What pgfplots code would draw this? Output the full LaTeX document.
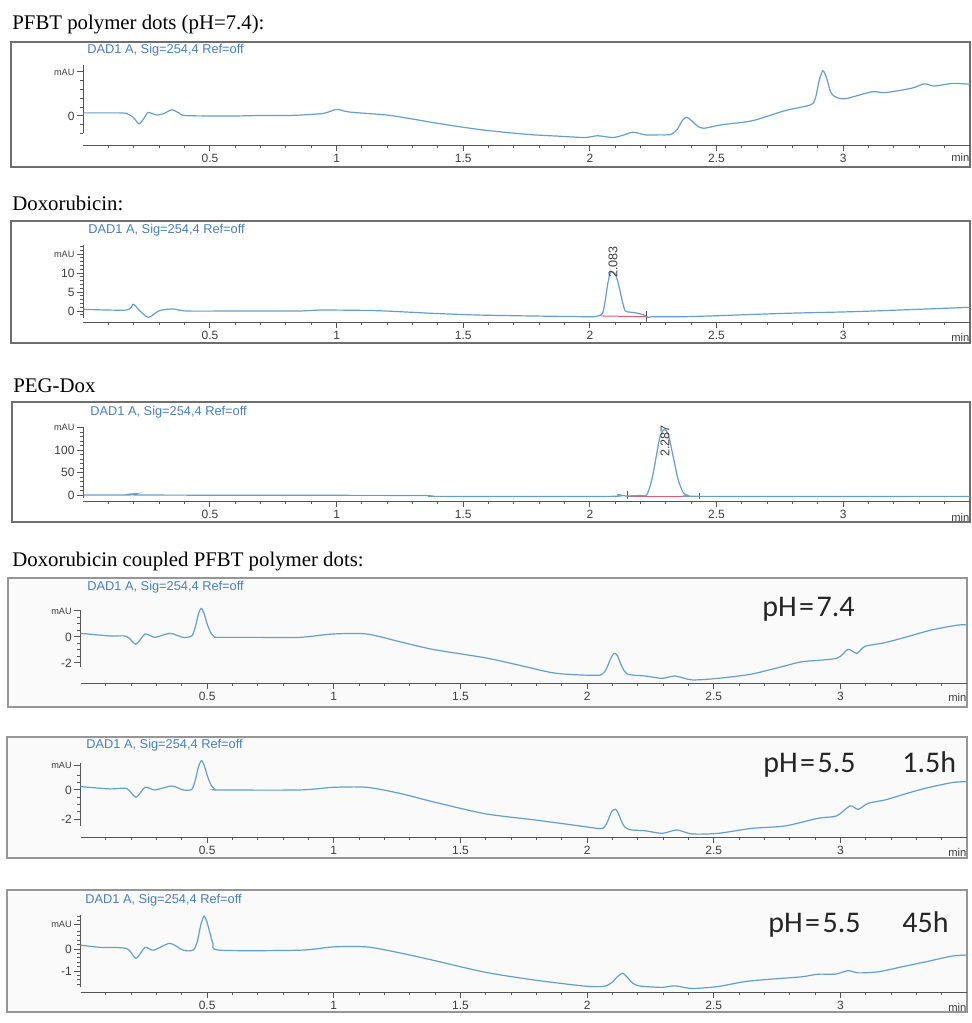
\documentclass[border=0pt]{standalone}
\usepackage{fontspec}
\setmainfont{Liberation Serif}
\newfontfamily\arial{Liberation Sans}
\newfontfamily\calibri{Carlito}
\usepackage{pgfplots}
\pgfplotsset{compat=1.18}
\definecolor{trace}{RGB}{100,158,208}
\definecolor{dadblue}{RGB}{70,125,195}
\definecolor{axcol}{RGB}{85,85,85}
\definecolor{labcol}{RGB}{60,60,60}
\definecolor{framea}{RGB}{110,110,110}
\definecolor{frameb}{RGB}{150,150,150}
\definecolor{intred}{RGB}{230,90,110}
\newcommand\mAU{{\fontsize{4.6}{5}\selectfont mAU}}
\pgfplotsset{hplc/.style={
  x=126.65pt, xmin=0, xmax=3.5,
  anchor=south west, clip=false,
  axis x line=bottom, axis y line=left,
  axis line style={-, draw=axcol, line width=0.5pt},
  y axis line style={draw=none},
  tick align=outside, tick style={axcol, line width=0.5pt},
  major tick length=3.2pt, minor tick length=1.6pt,
  xtick={0.5,1,1.5,2,2.5,3}, xticklabels={0.5,1,1.5,2,2.5,3},
  minor xtick={0.1,0.2,0.3,0.4,0.6,0.7,0.8,0.9,1.1,1.2,1.3,1.4,1.6,1.7,1.8,1.9,2.1,2.2,2.3,2.4,2.6,2.7,2.8,2.9,3.1,3.2,3.3,3.4},
  /pgf/number format/assume math mode=true,
  tick label style={font=\arial\fontsize{6}{7}\selectfont, text=labcol, inner sep=1pt},
},
tr/.style={trace, line width=0.6pt, smooth, tension=0.45}}
\begin{document}
\begin{tikzpicture}
\path[use as bounding box] (0,0) rectangle (485.5pt,-511.5pt);
\begin{scope}[x=0.5pt,y=-0.5pt]
\draw[framea, line width=0.55pt] (11,42) rectangle (970,167);
\draw[framea, line width=0.55pt] (11,221) rectangle (970,343);
\draw[framea, line width=0.55pt] (12,402) rectangle (970,522);
\draw[frameb, fill=black!2, line width=0.55pt] (8,578) rectangle (967,707);
\draw[frameb, fill=black!2, line width=0.55pt] (7,737) rectangle (967,858);
\draw[frameb, fill=black!2, line width=0.55pt] (7,890) rectangle (967,1012);
\end{scope}

% Panel 1
\begin{axis}[hplc, at={(41.65pt,-72.5pt)}, y=22pt, ymin=-0.66, ymax=1.7,
  ytick={0,1}, yticklabels={0,\mAU}, minor ytick={-0.4,-0.2,0.2,0.4,0.6,0.8}]
\draw[axcol, line width=0.5pt] (axis cs:0,-0.39) -- (axis cs:0,1.16);
\addplot[tr] coordinates {
(0,0.07) (0.10,0.07) (0.17,0.06) (0.20,-0.05) (0.22,-0.18) (0.24,-0.05) (0.256,0.08)
(0.29,0.02) (0.32,0.06) (0.35,0.14) (0.38,0.06) (0.40,0.01) (0.50,0.0) (0.60,0.0)
(0.70,0.01) (0.80,0.01) (0.855,0.02) (0.95,0.06) (1.00,0.15) (1.05,0.09) (1.20,0.02)
(1.30,-0.07) (1.38,-0.15) (1.48,-0.24) (1.58,-0.32) (1.68,-0.38) (1.78,-0.43)
(1.88,-0.46) (1.98,-0.49) (2.03,-0.45) (2.09,-0.49) (2.13,-0.44) (2.17,-0.37)
(2.22,-0.43) (2.27,-0.43) (2.32,-0.42) (2.345,-0.30) (2.365,-0.10) (2.383,-0.03)
(2.40,-0.10) (2.425,-0.23) (2.45,-0.28) (2.52,-0.20) (2.64,-0.11) (2.77,0.12)
(2.87,0.25) (2.89,0.40) (2.905,0.80) (2.92,1.03) (2.935,0.85) (2.95,0.55) (2.967,0.44)
(3.007,0.39) (3.113,0.55) (3.165,0.53) (3.27,0.63) (3.32,0.73) (3.36,0.68) (3.43,0.74) (3.5,0.72)};
\end{axis}

% Panel 2
\begin{axis}[hplc, at={(41.65pt,-161pt)}, y=1.9pt, ymin=-2.89, ymax=24,
  ytick={0,5,10,15}, yticklabels={0,5,10,\mAU},
  minor ytick={-1,1,2,3,4,6,7,8,9,11,12,13,14,16,17}]
\draw[axcol, line width=0.5pt] (axis cs:0,-1.8) -- (axis cs:0,17.4);
\addplot[intred, line width=0.5pt] coordinates {(2.045,-1.3) (2.225,-1.5)};
\addplot[axcol, line width=0.4pt] coordinates {(2.225,-3) (2.225,0)};
\addplot[tr] coordinates {
(0,0.45) (0.17,0.26) (0.197,1.76) (0.22,0.26) (0.257,-1.66) (0.30,0.09) (0.355,0.53)
(0.41,0) (0.60,0) (0.855,0) (0.934,0.26) (1.16,0.09) (1.38,-0.61) (1.585,-1.1)
(1.98,-1.49) (2.03,-1.32) (2.05,-0.61) (2.06,2.5) (2.07,7.0) (2.08,10.0) (2.09,10.3)
(2.10,9.7) (2.11,7.8) (2.12,5.0) (2.13,2.0) (2.14,0.0) (2.16,-0.3) (2.19,-0.6)
(2.215,-1.1) (2.23,-1.66) (2.255,-1.49) (2.375,-1.49) (2.505,-1.23) (2.77,-0.61)
(3.04,-0.17) (3.295,0.45) (3.5,0.97)};
\end{axis}

% Panel 3
\begin{axis}[hplc, at={(41.65pt,-250.5pt)}, y=0.225pt, ymin=-13.3, ymax=207,
  ytick={0,50,100,150}, yticklabels={0,50,100,\mAU},
  minor ytick={10,20,30,40,60,70,80,90,110,120,130,140}]
\draw[axcol, line width=0.5pt] (axis cs:0,-6.7) -- (axis cs:0,151);
\addplot[intred, line width=0.5pt] coordinates {(2.147,-3) (2.434,-3)};
\addplot[axcol, line width=0.4pt] coordinates {(2.147,-8) (2.147,10)};
\addplot[axcol, line width=0.4pt] coordinates {(2.434,-8) (2.434,4)};
\addplot[tr] coordinates {
(0,0) (0.18,0) (0.21,3) (0.24,0) (1.3,-1) (1.4,-3) (2.08,-3) (2.11,1) (2.14,-2)
(2.2,-1) (2.224,0) (2.244,33) (2.264,92) (2.277,130) (2.294,146) (2.31,133)
(2.329,85) (2.349,33) (2.369,5) (2.389,-1) (2.45,-3) (3.5,-3)};
\end{axis}

% Panel 4
\begin{axis}[hplc, at={(40.25pt,-341.5pt)}, y=6.5pt, ymin=-3.54, ymax=4.5,
  ytick={-2,0,2}, yticklabels={-2,0,\mAU},
  minor ytick={-1.5,-1,-0.5,0.5,1,1.5}]
\draw[axcol, line width=0.5pt] (axis cs:0,-2.3) -- (axis cs:0,2.08);
\addplot[tr] coordinates {
(0,0.28) (0.116,0.08) (0.182,0.05) (0.219,-0.56) (0.255,0.23) (0.294,-0.03)
(0.353,0.28) (0.405,-0.03) (0.44,0.1) (0.455,0.9) (0.466,1.8) (0.476,2.2) (0.488,1.8)
(0.50,1.0) (0.515,0.3) (0.53,0.0) (0.543,-0.03) (0.70,-0.03) (0.866,-0.03) (0.997,0.23)
(1.13,0.23) (1.26,-0.36) (1.39,-0.95) (1.597,-1.6) (1.727,-2.15) (1.86,-2.74)
(1.95,-2.9) (2.04,-2.95) (2.06,-2.85) (2.075,-2.5) (2.09,-1.8) (2.10,-1.4) (2.11,-1.26)
(2.12,-1.45) (2.13,-1.95) (2.145,-2.55) (2.16,-2.85) (2.19,-2.95)
(2.23,-3.0) (2.296,-3.18) (2.347,-3.0) (2.414,-3.3) (2.517,-3.18)
(2.65,-2.85) (2.78,-2.23) (2.85,-1.9) (2.985,-1.64) (3.03,-0.95) (3.065,-1.26)
(3.097,-0.72) (3.175,-0.44) (3.255,-0.03) (3.36,0.54) (3.465,0.92) (3.5,0.92)};
\end{axis}

% Panel 5
\begin{axis}[hplc, at={(40.25pt,-418.5pt)}, y=7.33pt, ymin=-3.21, ymax=3.6,
  ytick={-2,0,1.65}, yticklabels={-2,0,\mAU},
  minor ytick={-1.5,-1,-0.5,0.5,1}]
\draw[axcol, line width=0.5pt] (axis cs:0,-2.48) -- (axis cs:0,1.86);
\addplot[tr] coordinates {
(0,0.23) (0.116,0.07) (0.182,0.1) (0.219,-0.5) (0.255,0.18) (0.294,0.0) (0.36,0.27)
(0.405,0) (0.44,0.05) (0.455,0.8) (0.466,1.6) (0.478,2.0) (0.49,1.6) (0.50,1.0)
(0.515,0.35) (0.53,0.05) (0.543,0) (0.866,0) (0.997,0.18) (1.13,0.18) (1.26,-0.23)
(1.39,-0.8) (1.597,-1.62) (1.795,-2.05) (1.99,-2.5) (2.04,-2.62) (2.062,-2.62)
(2.077,-2.3) (2.09,-1.75) (2.10,-1.42) (2.112,-1.32) (2.122,-1.55) (2.135,-2.1)
(2.15,-2.55) (2.175,-2.73) (2.228,-2.78)
(2.296,-2.96) (2.355,-2.73) (2.414,-3.0) (2.517,-2.96) (2.65,-2.62) (2.78,-2.46)
(2.912,-1.93) (2.985,-1.77) (3.038,-1.09) (3.07,-1.32) (3.11,-0.91) (3.177,-0.68)
(3.256,-0.27) (3.335,0.11) (3.44,0.5) (3.5,0.57)};
\end{axis}

% Panel 6
\begin{axis}[hplc, at={(40.25pt,-496pt)}, y=11pt, ymin=-1.95, ymax=2.7,
  ytick={-1,0,1.14}, yticklabels={-1,0,\mAU},
  minor ytick={-1.6,-1.4,-1.2,-0.8,-0.6,-0.4,-0.2,0.2,0.4,0.6,0.8,1.3,1.5}]
\draw[axcol, line width=0.5pt] (axis cs:0,-1.73) -- (axis cs:0,1.55);
\addplot[tr] coordinates {
(0,0.18) (0.078,0.08) (0.182,0.03) (0.219,-0.42) (0.255,0.08) (0.288,-0.05)
(0.353,0.26) (0.405,-0.05) (0.444,-0.05) (0.46,0.3) (0.475,1.1) (0.488,1.5) (0.50,1.2)
(0.512,0.7) (0.523,0.26) (0.55,-0.05) (0.866,-0.05) (0.997,0.1) (1.13,0.1)
(1.26,-0.17) (1.39,-0.5) (1.597,-1.05) (1.795,-1.41) (1.99,-1.68) (2.06,-1.7) (2.085,-1.62)
(2.1,-1.5) (2.12,-1.25) (2.14,-1.1) (2.16,-1.3) (2.18,-1.55) (2.2,-1.66) (2.228,-1.7)
(2.296,-1.74) (2.347,-1.67) (2.414,-1.79) (2.517,-1.7) (2.62,-1.48) (2.71,-1.38)
(2.846,-1.26) (2.912,-1.14) (2.98,-1.14) (3.03,-0.98) (3.07,-1.08) (3.15,-1.03)
(3.245,-0.8) (3.336,-0.58) (3.44,-0.32) (3.5,-0.27)};
\end{axis}

\begin{scope}[x=0.5pt,y=-0.5pt]
\tikzset{ttl/.style={anchor=base west, inner sep=0, font=\fontsize{10.4}{12}\selectfont},
  dad/.style={anchor=west, inner sep=0, text=dadblue, font=\arial\fontsize{6.4}{7}\selectfont},
  mn/.style={anchor=west, inner sep=0, text=labcol, font=\arial\fontsize{5.6}{6}\selectfont},
  ph/.style={anchor=base west, inner sep=0, text=black!85, font=\calibri\fontsize{15}{17}\selectfont},
  pk/.style={anchor=west, inner sep=0, rotate=90, text=labcol, font=\arial\fontsize{6.3}{7}\selectfont}}
\node[ttl] at (12,29) {PFBT polymer dots (pH=7.4):};
\node[ttl] at (12,210) {Doxorubicin:};
\node[ttl] at (13,392) {PEG-Dox};
\node[ttl] at (12,566) {Doxorubicin coupled PFBT polymer dots:};
\node[dad] at (87,50.5) {DAD1 A, Sig=254,4 Ref=off};
\node[dad] at (88,230) {DAD1 A, Sig=254,4 Ref=off};
\node[dad] at (90,412) {DAD1 A, Sig=254,4 Ref=off};
\node[dad] at (87,587) {DAD1 A, Sig=254,4 Ref=off};
\node[dad] at (86,745) {DAD1 A, Sig=254,4 Ref=off};
\node[dad] at (85,900) {DAD1 A, Sig=254,4 Ref=off};
\node[mn] at (951,157) {min};
\node[mn] at (951,337) {min};
\node[mn] at (951,517) {min};
\node[mn] at (948,697) {min};
\node[mn] at (948,852) {min};
\node[mn] at (948,1007) {min};
\node[pk] at (613,278) {2.083};
\node[pk] at (665,457) {2.287};
\node[ph] at (762,616) {pH\hspace{1.2pt}=\hspace{1.2pt}7.4};
\node[ph] at (763,772) {pH\hspace{1.2pt}=\hspace{1.2pt}5.5};
\node[ph] at (902,772) {1.5h};
\node[ph] at (768,932) {pH\hspace{1.2pt}=\hspace{1.2pt}5.5};
\node[ph] at (902,932) {45h};
\end{scope}
\end{tikzpicture}
\end{document}
